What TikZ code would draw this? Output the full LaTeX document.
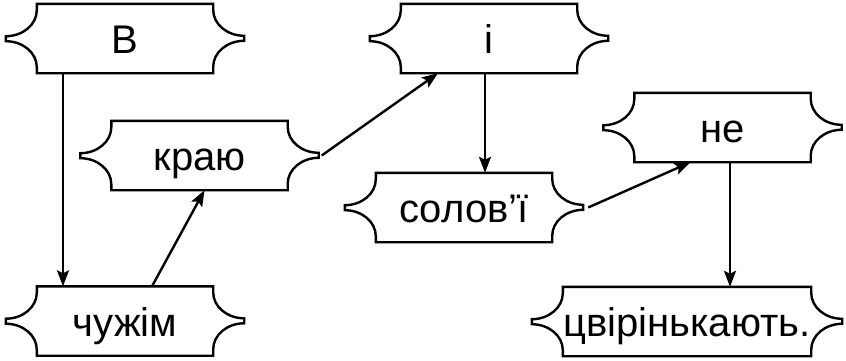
\documentclass[tikz,border=0pt]{standalone}
\usepackage{fontspec}
\setmainfont{Liberation Sans}
\usetikzlibrary{arrows.meta}

\tikzset{
  word/.style={minimum width=#1, minimum height=69pt, inner sep=0pt,
    text height=30pt, text depth=0pt, font=\fontsize{40}{44}\selectfont},
  word/.default=176pt,
  frame/.style={line width=2.4pt, line join=miter},
  link/.style={line width=2.4pt, -{Stealth[length=16pt,width=12pt,inset=3pt]}}
}
% brace-sided frame round a named node
\newcommand{\wordframe}[1]{%
  \draw[frame] (#1.north west) -- (#1.north east) -- ++(0,-6)
    arc[start angle=180,end angle=270,x radius=31pt,y radius=26pt] -- ++(0,-5)
    arc[start angle=90,end angle=180,x radius=31pt,y radius=26pt] -- (#1.south east)
    -- (#1.south west) -- ++(0,6)
    arc[start angle=0,end angle=90,x radius=31pt,y radius=26pt] -- ++(0,5)
    arc[start angle=-90,end angle=0,x radius=31pt,y radius=26pt] -- cycle;}

\begin{document}
\begin{tikzpicture}[x=1pt, y=1pt]
\useasboundingbox (0,0) rectangle (846,360);

\node[word] (v) at (125,321.5) {В};
\node[word] (kraiu) at (199.5,204.5) {краю};
\node[word] (chuzhim) at (125,39) {чужім};
\node[word] (i) at (489,321.5) {і};
\node[word] (solovi) at (464,152.5) {солов’ї};
\node[word] (ne) at (722.5,232.5) {не};
\node[word=248pt] (tsvir) at (687,38.5) {цвірінькають.};

\foreach \n in {v,kraiu,chuzhim,i,solovi,ne,tsvir}
{
    \wordframe{\n}
}

\draw[link] ([xshift=-62pt]v.south) -- ([xshift=-62pt]chuzhim.north);
\draw[link] ([xshift=27pt]chuzhim.north) -- ([xshift=5pt]kraiu.south);
\draw[link] ([xshift=34pt]kraiu.east) -- ([xshift=-51pt]i.south);
\draw[link] ([xshift=-4pt]i.south) -- ([xshift=-4pt]i.south |- solovi.north);
\draw[link] ([xshift=36pt]solovi.east) -- ([xshift=-32pt]ne.south);
\draw[link] ([xshift=7.5pt]ne.south) -- ([xshift=7.5pt]ne.south |- tsvir.north);

\end{tikzpicture}
\end{document}
